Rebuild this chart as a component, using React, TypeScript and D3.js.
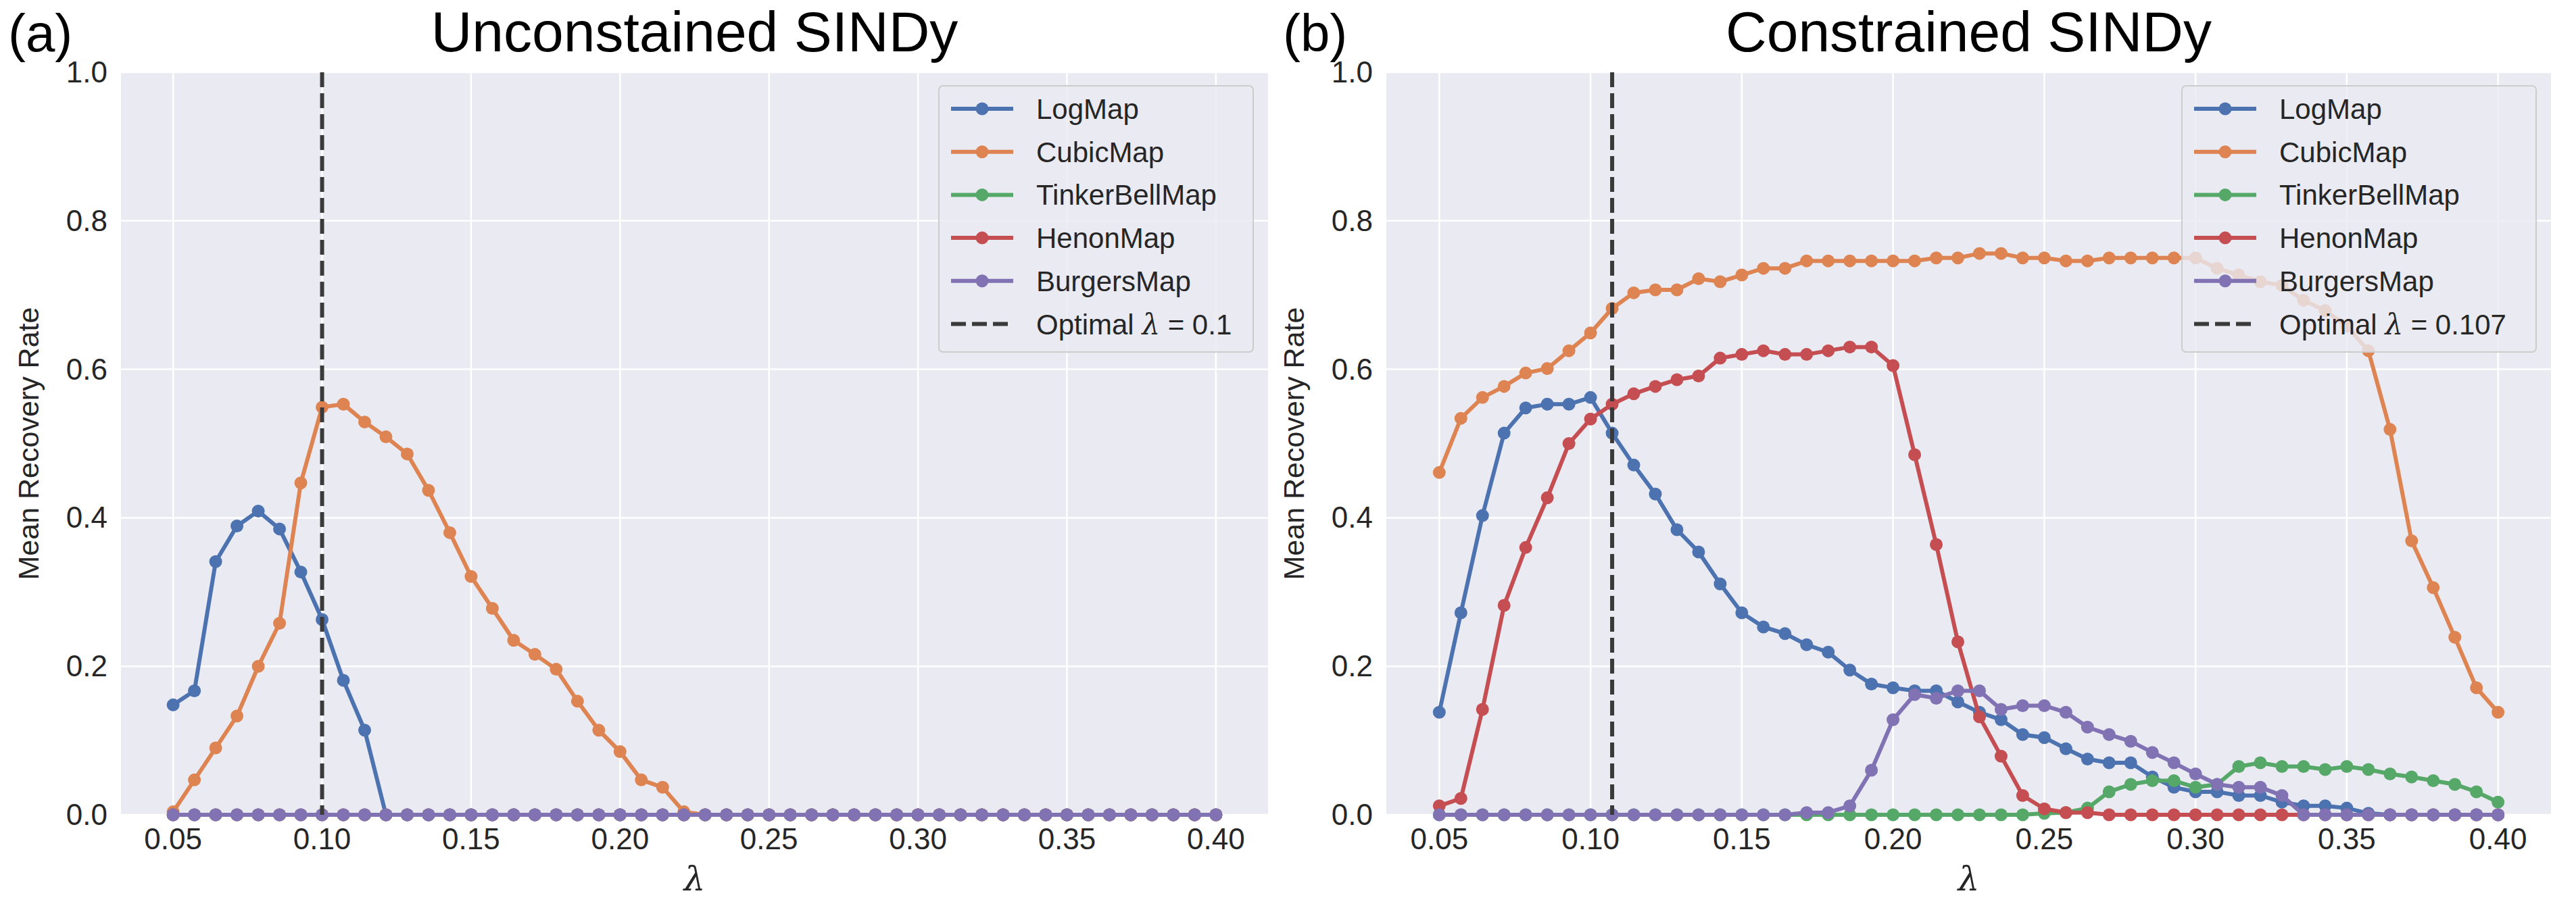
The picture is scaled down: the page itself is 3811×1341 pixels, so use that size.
import { useEffect, useRef } from "react";
import * as d3 from "d3";

const lambdas = d3.range(50).map((i) => 0.05 + (0.35 * i) / 49);
const seriesNames = ["LogMap", "CubicMap", "TinkerBellMap", "HenonMap", "BurgersMap"];
const colors = ["#4c72b0", "#dd8452", "#55a868", "#c44e52", "#8172b3"];
const zeros = (n: number) => new Array(n).fill(0);

const logUnc = [0.148, 0.167, 0.341, 0.389, 0.409, 0.385, 0.327, 0.263, 0.181, 0.114, ...zeros(40)];
const cubicUnc = [
  0.004, 0.047, 0.09, 0.133, 0.2, 0.258, 0.447, 0.549, 0.553, 0.529, 0.509, 0.486, 0.437, 0.38,
  0.321, 0.278, 0.235, 0.216, 0.196, 0.153, 0.114, 0.085, 0.047, 0.037, 0.004, ...zeros(25),
];
const tinkerUnc = zeros(50);
const henonUnc = zeros(50);
const burgersUnc = zeros(50);

const logCon = [
  0.138, 0.272, 0.403, 0.514, 0.548, 0.553, 0.553, 0.562, 0.514, 0.471, 0.432, 0.384, 0.354, 0.311,
  0.272, 0.253, 0.244, 0.229, 0.219, 0.195, 0.176, 0.171, 0.167, 0.167, 0.152, 0.138, 0.128, 0.108,
  0.104, 0.089, 0.075, 0.07, 0.07, 0.051, 0.037, 0.031, 0.031, 0.026, 0.026, 0.017, 0.012, 0.012,
  0.009, 0.002, ...zeros(6),
];
const cubicCon = [
  0.461, 0.534, 0.562, 0.577, 0.595, 0.601, 0.625, 0.649, 0.682, 0.703, 0.707, 0.707, 0.722, 0.718,
  0.727, 0.736, 0.736, 0.746, 0.746, 0.746, 0.746, 0.746, 0.746, 0.75, 0.75, 0.756, 0.756, 0.75,
  0.75, 0.746, 0.746, 0.75, 0.75, 0.75, 0.75, 0.75, 0.736, 0.727, 0.718, 0.713, 0.693, 0.679, 0.658,
  0.625, 0.519, 0.369, 0.306, 0.239, 0.171, 0.138,
];
const tinkerCon = [
  ...zeros(28), 0.002, 0.003, 0.009, 0.031, 0.041, 0.046, 0.046, 0.037, 0.041, 0.065, 0.07, 0.065,
  0.065, 0.061, 0.065, 0.061, 0.055, 0.051, 0.046, 0.041, 0.031, 0.017,
];
const henonCon = [
  0.012, 0.022, 0.142, 0.282, 0.36, 0.427, 0.5, 0.533, 0.553, 0.567, 0.577, 0.586, 0.591, 0.615,
  0.62, 0.625, 0.62, 0.62, 0.625, 0.63, 0.63, 0.605, 0.485, 0.364, 0.233, 0.132, 0.079, 0.026,
  0.008, 0.003, 0.003, ...zeros(19),
];
const burgersCon = [
  ...zeros(17), 0.003, 0.003, 0.012, 0.06, 0.128, 0.162, 0.157, 0.167, 0.167, 0.142, 0.147, 0.147,
  0.138, 0.118, 0.108, 0.099, 0.084, 0.07, 0.055, 0.041, 0.037, 0.037, 0.026, ...zeros(10),
];

const xTicks = [0.05, 0.1, 0.15, 0.2, 0.25, 0.3, 0.35, 0.4];
const yTicks = [0, 0.2, 0.4, 0.6, 0.8, 1.0];

const panels = [
  {
    tag: "(a)", title: "Unconstained SINDy", optimal: 0.1, optLabel: "0.1",
    data: [logUnc, cubicUnc, tinkerUnc, henonUnc, burgersUnc],
    left: 179, right: 1876, tagX: 12, legendX: 1389,
  },
  {
    tag: "(b)", title: "Constrained SINDy", optimal: lambdas[8], optLabel: "0.107",
    data: [logCon, cubicCon, tinkerCon, henonCon, burgersCon],
    left: 2051, right: 3774, tagX: 1898, legendX: 3228,
  },
];

export default function App() {
  const ref = useRef<SVGSVGElement>(null);

  useEffect(() => {
    const svg = d3.select(ref.current);
    svg.selectAll("*").remove();
    const top = 107, bottom = 1206;
    const font = "'Liberation Sans', Arial, sans-serif";

    panels.forEach((p) => {
      const x = d3.scaleLinear().domain([0.0325, 0.4175]).range([p.left, p.right]);
      const y = d3.scaleLinear().domain([0, 1]).range([bottom, top]);
      const g = svg.append("g");

      g.append("rect").attr("x", p.left).attr("y", top)
        .attr("width", p.right - p.left).attr("height", bottom - top).attr("fill", "#eaeaf2");

      g.selectAll(".gx").data(xTicks).enter().append("line")
        .attr("x1", (d) => x(d)).attr("x2", (d) => x(d)).attr("y1", top).attr("y2", bottom)
        .attr("stroke", "white").attr("stroke-width", 2.5);
      g.selectAll(".gy").data(yTicks).enter().append("line")
        .attr("y1", (d) => y(d)).attr("y2", (d) => y(d)).attr("x1", p.left).attr("x2", p.right)
        .attr("stroke", "white").attr("stroke-width", 2.5);

      g.selectAll(".tx").data(xTicks).enter().append("text")
        .attr("x", (d) => x(d)).attr("y", 1257).attr("text-anchor", "middle")
        .attr("font-size", 44).attr("font-family", font).attr("fill", "#262626")
        .text((d) => d.toFixed(2));
      g.selectAll(".ty").data(yTicks).enter().append("text")
        .attr("x", p.left - 20).attr("y", (d) => y(d) + 15).attr("text-anchor", "end")
        .attr("font-size", 44).attr("font-family", font).attr("fill", "#262626")
        .text((d) => d.toFixed(1));

      g.append("text").attr("x", (p.left + p.right) / 2).attr("y", 1318)
        .attr("text-anchor", "middle").attr("font-size", 50).attr("font-style", "italic")
        .attr("font-family", "'DejaVu Serif', serif").attr("fill", "#262626").text("λ");
      g.append("text")
        .attr("transform", `translate(${p.left - 122},${(top + bottom) / 2}) rotate(-90)`)
        .attr("text-anchor", "middle").attr("font-size", 43).attr("font-family", font)
        .attr("fill", "#262626").text("Mean Recovery Rate");
      g.append("text").attr("x", (p.left + p.right) / 2).attr("y", 76)
        .attr("text-anchor", "middle").attr("font-size", 84).attr("font-family", font)
        .attr("fill", "black").text(p.title);
      g.append("text").attr("x", p.tagX).attr("y", 76).attr("font-size", 78)
        .attr("font-family", font).attr("fill", "black").text(p.tag);

      const line = d3.line<number>().x((_, i) => x(lambdas[i])).y((d) => y(d));
      p.data.forEach((vals, s) => {
        g.append("path").datum(vals).attr("d", line).attr("fill", "none")
          .attr("stroke", colors[s]).attr("stroke-width", 6);
        g.selectAll(null).data(vals).enter().append("circle")
          .attr("cx", (_, i) => x(lambdas[i])).attr("cy", (d) => y(d)).attr("r", 9.5)
          .attr("fill", colors[s]);
      });

      g.append("line").attr("x1", x(p.optimal)).attr("x2", x(p.optimal))
        .attr("y1", top).attr("y2", bottom).attr("stroke", "#3a3a3a")
        .attr("stroke-width", 6).attr("stroke-dasharray", "22,9");

      // legend
      const lx = p.legendX, ly = 127, lw = p.right - 22 - lx, lh = 394;
      g.append("rect").attr("x", lx).attr("y", ly).attr("width", lw).attr("height", lh)
        .attr("rx", 6).attr("fill", "#eaeaf2").attr("fill-opacity", 0.8)
        .attr("stroke", "#cccccc").attr("stroke-width", 2);
      const rows = [...seriesNames, "opt"];
      rows.forEach((name, i) => {
        const ry = 161 + i * 63.7;
        const x0 = lx + 18, x1 = lx + 110;
        if (name === "opt") {
          g.append("line").attr("x1", x0).attr("x2", x1).attr("y1", ry).attr("y2", ry)
            .attr("stroke", "#3a3a3a").attr("stroke-width", 6).attr("stroke-dasharray", "22,9");
        } else {
          g.append("line").attr("x1", x0).attr("x2", x1).attr("y1", ry).attr("y2", ry)
            .attr("stroke", colors[i]).attr("stroke-width", 6);
          g.append("circle").attr("cx", (x0 + x1) / 2).attr("cy", ry).attr("r", 9.5).attr("fill", colors[i]);
        }
        const t = g.append("text").attr("x", lx + 144).attr("y", ry + 15)
          .attr("font-size", 42).attr("font-family", font).attr("fill", "#262626");
        if (name === "opt") {
          t.append("tspan").text("Optimal ");
          t.append("tspan").attr("font-style", "italic").attr("font-family", "'DejaVu Serif', serif").text("λ");
          t.append("tspan").text(` = ${p.optLabel}`);
        } else t.text(name);
      });
    });
  }, []);

  return (
    <div style={{ position: "absolute", left: 0, top: 0 }}>
      <svg ref={ref} width={3811} height={1341} style={{ display: "block", background: "white" }} />
    </div>
  );
}
